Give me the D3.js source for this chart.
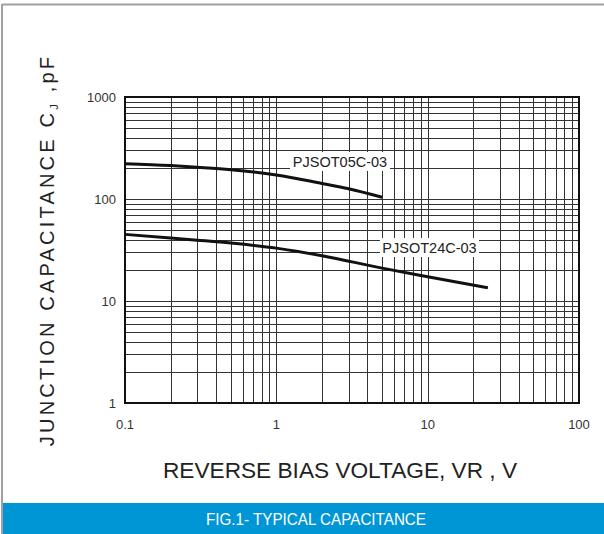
<!DOCTYPE html>
<html>
<head>
<meta charset="utf-8">
<script src="https://cdn.jsdelivr.net/npm/d3@7"></script>
<style>
  html, body { margin: 0; padding: 0; background: #fff; }
  svg { display: block; }
</style>
</head>
<body>
<div id="chart"></div>
<script>
// reverse bias voltage (V) vs junction capacitance (pF)
const v05 = [0.1, 0.2, 0.3, 0.5, 1, 2, 3, 5];
const c05 = [222, 213, 205, 194, 172, 142, 126, 104];
const v24 = [0.1, 0.2, 0.3, 0.5, 1, 2, 5, 10, 25];
const c24 = [45, 41.5, 39.5, 37, 33, 27.8, 21, 17.3, 13.5];
const seriesNames = ['PJSOT05C-03', 'PJSOT24C-03'];
const xTicks = [0.1, 1, 10, 100];
const yTicks = [1, 10, 100, 1000];

const W = 604, H = 534;
const svg = d3.select('#chart').append('svg').attr('width', W).attr('height', H);

// frame
svg.append('line').attr('x1', 2).attr('x2', W).attr('y1', 4.5).attr('y2', 4.5)
  .attr('stroke', '#a0a0a0').attr('stroke-width', 2);
svg.append('line').attr('x1', 2).attr('x2', 2).attr('y1', 4).attr('y2', H)
  .attr('stroke', '#a0a0a0').attr('stroke-width', 2);

const x = d3.scaleLog().domain([0.1, 100]).range([125, 579]);
const y = d3.scaleLog().domain([1, 1000]).range([403, 97]);

// minor grid lines
const minorX = [];
[0.1, 1, 10].forEach(d => { for (let k = 1; k <= 9; k++) minorX.push(d * k); });
minorX.push(100);
const minorY = [];
[1, 10, 100].forEach(d => { for (let k = 1; k <= 9; k++) minorY.push(d * k); });
minorY.push(1000);

const grid = svg.append('g').attr('stroke', '#333').attr('stroke-width', 1);
grid.selectAll('line.vx').data(minorX).join('line').attr('class', 'vx')
  .attr('x1', d => Math.round(x(d)) + 0.5).attr('x2', d => Math.round(x(d)) + 0.5)
  .attr('y1', y(1000)).attr('y2', y(1));
grid.selectAll('line.hy').data(minorY).join('line').attr('class', 'hy')
  .attr('y1', d => Math.round(y(d)) + 0.5).attr('y2', d => Math.round(y(d)) + 0.5)
  .attr('x1', x(0.1)).attr('x2', x(100));

// frame of plot
svg.append('rect').attr('x', x(0.1)).attr('y', y(1000))
  .attr('width', x(100) - x(0.1)).attr('height', y(1) - y(1000))
  .attr('fill', 'none').attr('stroke', '#111').attr('stroke-width', 2);

// curves
const line = d3.line().x(d => x(d[0])).y(d => y(d[1])).curve(d3.curveMonotoneX);
const s05 = v05.map((v, i) => [v, c05[i]]);
const s24 = v24.map((v, i) => [v, c24[i]]);
[s05, s24].forEach(s => {
  svg.append('path').datum(s).attr('d', line)
    .attr('fill', 'none').attr('stroke', '#111').attr('stroke-width', 3);
});

// series labels with white boxes
const labels = [
  { name: seriesNames[0], x0: 290, x1: 390, yc: 162 },
  { name: seriesNames[1], x0: 380, x1: 479, yc: 248 }
];
labels.forEach(l => {
  svg.append('rect').attr('x', l.x0).attr('y', l.yc - 10).attr('width', l.x1 - l.x0).attr('height', 19)
    .attr('fill', '#fff');
  svg.append('text').attr('x', (l.x0 + l.x1) / 2).attr('y', l.yc + 5)
    .attr('text-anchor', 'middle').attr('font-family', 'Liberation Sans, Arial, sans-serif')
    .attr('font-size', 14.5).attr('fill', '#222').text(l.name);
});

// tick labels
const tickFont = 'Liberation Sans, Arial, sans-serif';
svg.selectAll('text.xt').data(xTicks).join('text').attr('class', 'xt')
  .attr('x', d => x(d)).attr('y', 429).attr('text-anchor', 'middle')
  .attr('font-family', tickFont).attr('font-size', 13).attr('fill', '#333')
  .text(d => d3.format('~g')(d));
svg.selectAll('text.yt').data(yTicks).join('text').attr('class', 'yt')
  .attr('x', 116).attr('y', d => y(d) + 5).attr('text-anchor', 'end')
  .attr('font-family', tickFont).attr('font-size', 13).attr('fill', '#333')
  .text(d => d);

// axis titles
svg.append('text').attr('x', 340).attr('y', 478).attr('text-anchor', 'middle')
  .attr('font-family', tickFont).attr('font-size', 22).attr('fill', '#222')
  .attr('textLength', 354).attr('lengthAdjust', 'spacingAndGlyphs')
  .text('REVERSE BIAS VOLTAGE, VR , V');

const yt = svg.append('text').attr('transform', 'translate(54,250) rotate(-90)')
  .attr('text-anchor', 'middle').attr('font-family', tickFont).attr('font-size', 20)
  .attr('fill', '#222').attr('letter-spacing', 3.2);
yt.append('tspan').text('JUNCTION CAPACITANCE C');
yt.append('tspan').attr('font-size', 11).attr('dy', 4).text('J');
yt.append('tspan').attr('dy', -4).text(' ,pF');

// figure caption bar
svg.append('rect').attr('x', 3).attr('y', 503).attr('width', W - 3).attr('height', H - 503)
  .attr('fill', '#0096d6');
svg.append('text').attr('x', 316).attr('y', 524.5).attr('text-anchor', 'middle')
  .attr('font-family', 'Liberation Sans Narrow, Arial Narrow, Liberation Sans, sans-serif')
  .attr('font-size', 16).attr('fill', '#fff')
  .attr('textLength', 220).attr('lengthAdjust', 'spacingAndGlyphs')
  .text('FIG.1- TYPICAL CAPACITANCE');
</script>
</body>
</html>
